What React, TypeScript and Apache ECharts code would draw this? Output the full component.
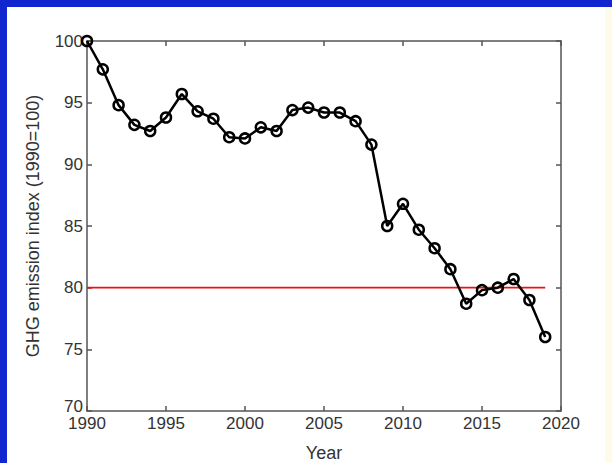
import React, { useEffect, useRef } from "react";
import * as echarts from "echarts";

const years = [1990, 1991, 1992, 1993, 1994, 1995, 1996, 1997, 1998, 1999, 2000, 2001, 2002, 2003, 2004, 2005, 2006, 2007, 2008, 2009, 2010, 2011, 2012, 2013, 2014, 2015, 2016, 2017, 2018, 2019];
const ghgIndex = [100, 97.7, 94.8, 93.2, 92.7, 93.8, 95.7, 94.3, 93.7, 92.2, 92.1, 93.0, 92.7, 94.4, 94.6, 94.2, 94.2, 93.5, 91.6, 85.0, 86.8, 84.7, 83.2, 81.5, 78.7, 79.8, 80.0, 80.7, 79.0, 76.0];
const targetYears = [1990, 2019];
const targetValue = 80;
const xTicks = [1990, 1995, 2000, 2005, 2010, 2015, 2020];
const yTicks = [70, 75, 80, 85, 90, 95, 100];

export default function App() {
  const ref = useRef<HTMLDivElement>(null);
  useEffect(() => {
    const chart = echarts.init(ref.current!, null, { renderer: "svg" });
    const font = "'Liberation Sans', Arial, sans-serif";
    const axisColor = "#555";
    const baseAxis = {
      axisLine: { show: true, onZero: false, lineStyle: { color: axisColor, width: 1.5 } },
      axisTick: { show: true, inside: true, length: 5, lineStyle: { color: axisColor, width: 1.5 } },
      splitLine: { show: false },
    };
    chart.setOption({
      animation: false,
      backgroundColor: "#1226cf",
      graphic: [
        { type: "rect", shape: { x: 7, y: 7, width: 598, height: 456 }, style: { fill: "#ffffff" }, z: -10 },
        { type: "rect", shape: { x: 605, y: 7, width: 7, height: 456 }, style: { fill: "#fffbea" }, z: -10 },
      ],
      grid: { left: 87, top: 41, width: 474, height: 370, containLabel: false, outerBoundsMode: "none" },
      xAxis: [
        {
          ...baseAxis,
          type: "value",
          min: xTicks[0],
          max: xTicks[xTicks.length - 1],
          interval: 5,
          position: "bottom",
          name: "Year",
          nameLocation: "middle",
          nameGap: 33,
          nameTextStyle: { color: "#333", fontSize: 18, fontFamily: font },
          axisLabel: { color: "#333", fontSize: 17, fontFamily: font, margin: 4, formatter: (v: number) => String(v) },
        },
        {
          ...baseAxis,
          type: "value",
          min: xTicks[0],
          max: xTicks[xTicks.length - 1],
          interval: 5,
          position: "top",
          axisLabel: { show: false },
        },
      ],
      yAxis: [
        {
          ...baseAxis,
          type: "value",
          min: yTicks[0],
          max: yTicks[yTicks.length - 1],
          interval: 5,
          position: "left",
          name: "GHG emission index (1990=100)",
          nameLocation: "middle",
          nameGap: 45,
          nameRotate: 90,
          nameTextStyle: { color: "#333", fontSize: 18, fontFamily: font },
          axisLabel: {
            color: "#333",
            fontSize: 17,
            fontFamily: font,
            margin: 4,
            formatter: (v: number) => (v === yTicks[0] ? "{low|" + v + "}" : String(v)),
            rich: { low: { color: "#333", fontSize: 17, fontFamily: font, padding: [0, 0, 10, 0] } },
          },
        },
        {
          ...baseAxis,
          type: "value",
          min: yTicks[0],
          max: yTicks[yTicks.length - 1],
          interval: 5,
          position: "right",
          axisLabel: { show: false },
        },
      ],
      series: [
        {
          type: "line",
          data: targetYears.map((y) => [y, targetValue]),
          symbol: "none",
          lineStyle: { color: "#ee1111", width: 1.6 },
          z: 2,
        },
        {
          type: "line",
          data: years.map((y, i) => [y, ghgIndex[i]]),
          symbol: "circle",
          symbolSize: 10,
          lineStyle: { color: "#000", width: 2.5 },
          itemStyle: { color: "rgba(255,255,255,0)", borderColor: "#000", borderWidth: 2.5 },
          z: 3,
        },
      ],
    });
    return () => chart.dispose();
  }, []);
  return <div ref={ref} style={{ position: "fixed", left: 0, top: 0, width: 612, height: 463 }} />;
}
